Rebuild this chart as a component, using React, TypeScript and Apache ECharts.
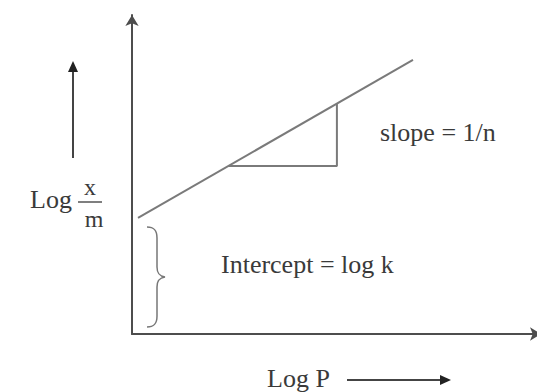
import React, { useEffect, useRef } from "react";
import * as echarts from "echarts";

// Freundlich isotherm sketch: log(x/m) vs log P (arbitrary units)
const lineLogP = [0.147, 6.87];
const lineLogXm = [3.64, 8.59];
const triangleLogP = [2.36, 5.01, 5.01];
const triangleLogXm = [5.27, 5.27, 7.22];
const xRange = [0, 10];
const yRange = [0, 10];

const labelSlope = "slope = 1/n";
const labelIntercept = "Intercept = log k";
const labelX = "Log P";
const labelYPrefix = "Log";
const labelYNum = "x";
const labelYDen = "m";

const BRACE =
  "M0,0 C7,0 10,3 10,11 L10,40 C10,46 12,49 18,50 C12,51 10,54 10,60 L10,89 C10,97 7,100 0,100";

let braceRegistered = false;

export default function App() {
  const ref = useRef<HTMLDivElement>(null);
  useEffect(() => {
    if (!ref.current) return;
    if (!braceRegistered) {
      echarts.graphic.registerShape("brace", echarts.graphic.extendPath(BRACE, {}));
      braceRegistered = true;
    }
    const chart = echarts.init(ref.current, null, { renderer: "svg" });
    const serif = '"Liberation Serif", "DejaVu Serif", serif';
    const textColor = "#3a3a3a";
    const axisColor = "#4d4d4d";
    const t = (text: string, x: number, y: number, size: number, align = "left") => ({
      type: "text",
      x,
      y,
      style: {
        text,
        font: `${size}px ${serif}`,
        fill: textColor,
        textAlign: align,
        align,
        textVerticalAlign: "middle",
        verticalAlign: "middle",
      },
    });
    chart.setOption({
      animation: false,
      backgroundColor: "#ffffff",
      grid: { left: 132, right: 0, top: 15, bottom: 58 },
      xAxis: {
        type: "value",
        min: xRange[0],
        max: xRange[1],
        axisLine: {
          show: true,
          lineStyle: { color: axisColor, width: 2 },
          symbol: ["none", "arrow"],
          symbolSize: [10, 11],
        },
        axisTick: { show: false },
        axisLabel: { show: false },
        splitLine: { show: false },
      },
      yAxis: {
        type: "value",
        min: yRange[0],
        max: yRange[1],
        axisLine: {
          show: true,
          lineStyle: { color: axisColor, width: 2 },
          symbol: ["none", "arrow"],
          symbolSize: [10, 11],
        },
        axisTick: { show: false },
        axisLabel: { show: false },
        splitLine: { show: false },
      },
      series: [
        {
          type: "line",
          data: lineLogP.map((x, i) => [x, lineLogXm[i]]),
          showSymbol: false,
          symbol: "none",
          lineStyle: { color: "#7a7a7a", width: 2 },
        },
        {
          type: "line",
          data: triangleLogP.map((x, i) => [x, triangleLogXm[i]]),
          showSymbol: false,
          symbol: "none",
          lineStyle: { color: "#7a7a7a", width: 2 },
        },
      ],
      graphic: [
        t(labelSlope, 380, 132, 26),
        t(labelIntercept, 221, 264, 26),
        t(labelX, 267, 378, 26),
        t(labelYPrefix, 30, 199, 26),
        t(labelYNum, 90, 187, 24, "center"),
        t(labelYDen, 94, 219, 24, "center"),
        {
          type: "line",
          shape: { x1: 78, y1: 202, x2: 102, y2: 202 },
          style: { stroke: "#555", lineWidth: 1.5 },
        },
        // left arrow
        {
          type: "line",
          shape: { x1: 73, y1: 158, x2: 73, y2: 70 },
          style: { stroke: "#444", lineWidth: 2 },
        },
        {
          type: "polygon",
          shape: { points: [[73, 61], [68, 72], [78, 72]] },
          style: { fill: "#222" },
        },
        // bottom arrow
        {
          type: "line",
          shape: { x1: 347, y1: 380, x2: 442, y2: 380 },
          style: { stroke: "#444", lineWidth: 2 },
        },
        {
          type: "polygon",
          shape: { points: [[451, 380], [440, 375], [440, 385]] },
          style: { fill: "#222" },
        },
        // brace
        {
          type: "brace",
          x: 147,
          y: 227,
          style: { stroke: "#777", fill: "none", lineWidth: 1.5 },
        },
      ],
    });
    return () => chart.dispose();
  }, []);
  return (
    <div
      ref={ref}
      style={{ position: "fixed", left: 0, top: 0, width: 541, height: 392, background: "#fff" }}
    />
  );
}
